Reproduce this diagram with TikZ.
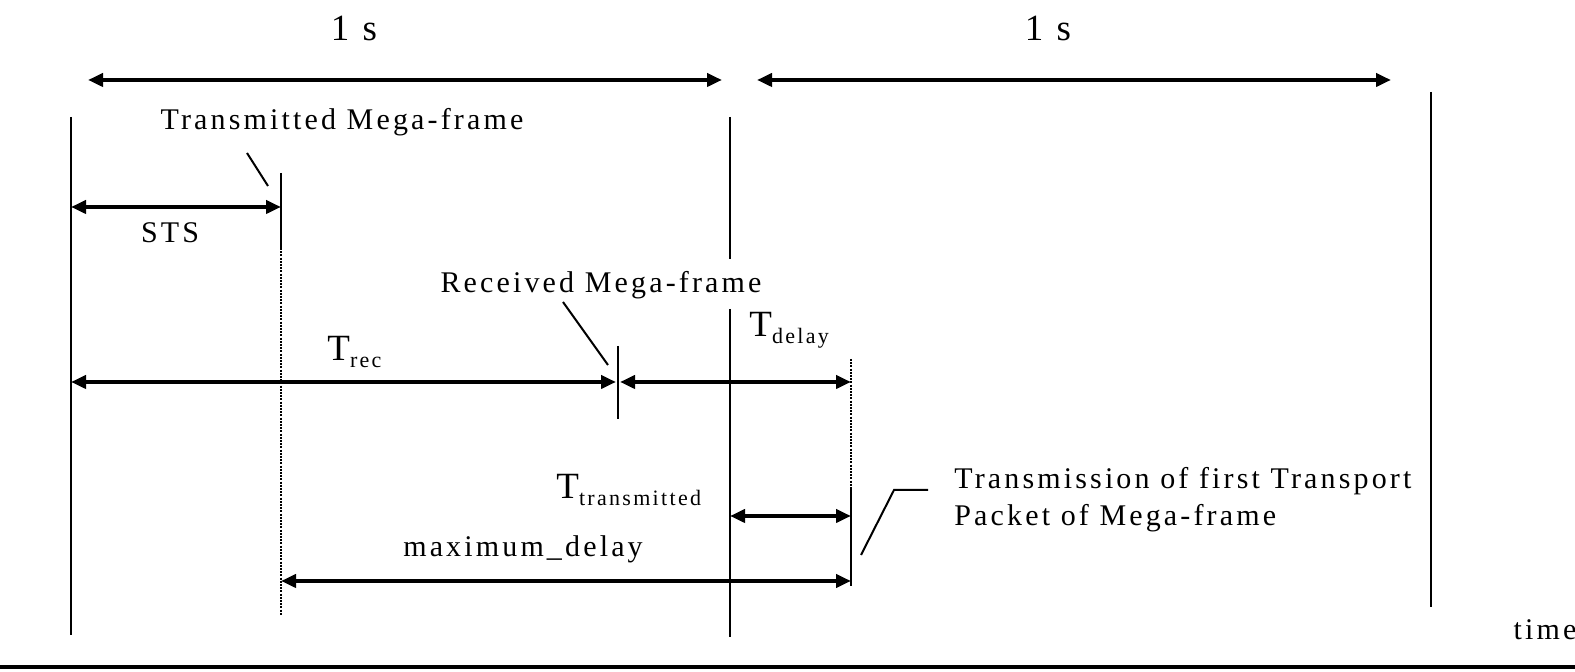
\documentclass[tikz,border=0pt]{standalone}
\usepackage{fontspec}
\setmainfont{Liberation Serif}[LetterSpace=10.5]
\usetikzlibrary{arrows.meta}
\tikzset{
  dim/.style={{Triangle[length=7.5pt,width=6.5pt]}-{Triangle[length=7.5pt,width=6.5pt]}, line width=2.2pt},
  bar/.style={line width=1pt},
  dots/.style={line width=1.3pt, dash pattern=on 1pt off 0.6pt},
  lbl/.style={font=\fontsize{15}{18.5}\selectfont, inner sep=0pt},
  big/.style={font=\fontsize{18.5}{22}\selectfont, inner sep=0pt},
}
\newcommand{\tsub}[1]{T\raisebox{-0.4ex}{\fontsize{11}{13}\selectfont #1}}
\begin{document}
\begin{tikzpicture}[x=0.5pt,y=-0.5pt]
      \useasboundingbox (0,0) rectangle (1575,672);
      % labels
      \draw
        (354,28) node[big] (one1){1 s}
        (1048,28) node[big] (one2){1 s}
        (342,122) node[lbl] (txm){Transmitted Mega-frame}
        (170,233) node[lbl] (sts){STS}
        (601,285) node[lbl] (rxm){Received Mega-frame}
        (327,352) node[big,anchor=west] (trec){\tsub{rec}}
        (749,330) node[big,anchor=west] (tdel){\tsub{delay}}
        (556,490) node[big,anchor=west] (ttx){\tsub{transmitted}}
        (523,549) node[lbl] (maxd){maximum\_delay}
        (954,500) node[lbl,anchor=west,align=left] (first){Transmission of first Transport\\Packet of Mega-frame}
        (1545,630) node[lbl] (time){time};
      % end points
      \coordinate (a0) at (71,117);   \coordinate (a1) at (71,635);
      \coordinate (b0) at (730,117);  \coordinate (b1) at (730,259);
      \coordinate (b2) at (730,309);  \coordinate (b3) at (730,637);
      \coordinate (c0) at (1431,92);  \coordinate (c1) at (1431,607);
      \coordinate (tx0) at (281,173); \coordinate (tx1) at (281,248);
      \coordinate (tx2) at (281,615);
      \coordinate (rx0) at (618,346); \coordinate (rx1) at (618,419);
      \coordinate (pk0) at (851,359); \coordinate (pk1) at (851,488);
      \coordinate (pk2) at (851,586);
      \coordinate (s0) at (88,80);    \coordinate (s1) at (722,80);
      \coordinate (s2) at (757,80);   \coordinate (s3) at (1391,80);
      \coordinate (ax0) at (0,667);   \coordinate (ax1) at (1575,667);
      % time markers
      \begin{scope}[bar]
        \draw (a0) to (a1);
        \draw (b0) to (b1);
        \draw (b2) to (b3);
        \draw (c0) to (c1);
        \draw (tx0) to (tx1);
        \draw[dots] (tx1) to (tx2);
        \draw (rx0) to (rx1);
        \draw[dots,line width=0.9pt] (pk0) to (pk1);
        \draw (pk1) to (pk2);
        \draw (247,153) coordinate (l0) -- (268,186) coordinate (l1);
        \draw (563,302) coordinate (l2) -- (608,365) coordinate (l3);
        \draw (861,555) coordinate (l4) -- (894,490) -- (928,490) coordinate (l5);
      \end{scope}
      % intervals
      \begin{scope}[dim]
        \draw (s0) to (s1);
        \draw (s2) to (s3);
        \draw (a0 |- 0,207) to (tx0 |- 0,207);
        \draw (a0 |- 0,382) to ([xshift=-1pt]rx0 |- 0,382);
        \draw ([xshift=1pt]rx0 |- 0,382) to (pk0 |- 0,382);
        \draw (b0 |- 0,516) to (pk1 |- 0,516);
        \draw (tx0 |- 0,581) to (pk2 |- 0,581);
      \end{scope}
      \draw[line width=2pt] (ax0) to (ax1);
    \end{tikzpicture}
\end{document}
